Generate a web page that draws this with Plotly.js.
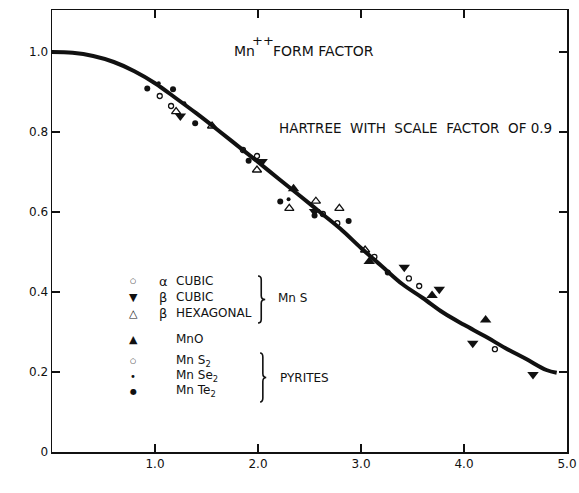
<!DOCTYPE html>
<html>
<head>
<meta charset="utf-8">
<script src="https://cdn.plot.ly/plotly-3.0.1.min.js"></script>
<style>html,body{margin:0;padding:0;background:#fff}#chart{width:579px;height:493px}</style>
</head>
<body>
<div id="chart"></div>
<script>
// Hartree curve (scale factor 0.9)
const curveX = [0, 0.2, 0.4, 0.6, 0.8, 1.0, 1.2, 1.4, 1.6, 1.8, 2.0, 2.2, 2.4, 2.6, 2.8, 3.0, 3.2, 3.4, 3.6, 3.8, 4.0, 4.2, 4.4, 4.6, 4.8, 4.9];
const curveY = [1.0, 0.998, 0.99, 0.975, 0.952, 0.922, 0.885, 0.847, 0.807, 0.766, 0.725, 0.683, 0.642, 0.600, 0.558, 0.510, 0.465, 0.420, 0.385, 0.348, 0.318, 0.290, 0.260, 0.233, 0.205, 0.198];

// MnS alpha cubic (small open circles)
const alphaCubicX = [1.046, 1.156, 1.854, 1.99, 2.63, 2.77, 3.13, 3.465, 3.565, 4.30];
const alphaCubicY = [0.890, 0.865, 0.755, 0.740, 0.595, 0.572, 0.488, 0.434, 0.415, 0.257];
// MnS beta cubic (filled down triangles)
const betaCubicX = [1.246, 2.04, 2.549, 3.42, 3.76, 4.085, 4.67];
const betaCubicY = [0.840, 0.726, 0.601, 0.462, 0.407, 0.272, 0.194];
// MnS beta hexagonal (open triangles)
const betaHexX = [1.205, 1.554, 1.99, 2.304, 2.562, 2.79, 3.04];
const betaHexY = [0.851, 0.815, 0.705, 0.609, 0.627, 0.609, 0.505];
// MnO (filled up triangles)
const mnoX = [2.345, 3.08, 3.69, 4.21];
const mnoY = [0.658, 0.476, 0.391, 0.330];
// MnSe2 (small dots)
const mnse2X = [1.036, 1.285, 2.297];
const mnse2Y = [0.922, 0.872, 0.632];
// MnTe2 (filled circles)
const mnte2X = [0.925, 1.175, 1.39, 1.909, 2.216, 2.549, 2.88, 3.26];
const mnte2Y = [0.909, 0.907, 0.822, 0.728, 0.626, 0.591, 0.5775, 0.449];

const xTickVals = [1, 2, 3, 4, 5];
const xTickText = ['1.0', '2.0', '3.0', '4.0', '5.0'];
const yTickVals = [0, 0.2, 0.4, 0.6, 0.8, 1.0];
const yTickText = ['0', '0.2', '0.4', '0.6', '0.8', '1.0'];

const FONT = 'DejaVu Sans, Arial, sans-serif';
const K = '#111';

function pts(x, y, symbol, size, lw) {
  return {x: x, y: y, type: 'scatter', mode: 'markers', showlegend: false, cliponaxis: false,
    marker: {symbol: symbol, size: size, color: K, line: {color: K, width: lw || 0}}};
}

const traces = [
  {x: curveX, y: curveY, type: 'scatter', mode: 'lines', line: {color: K, width: 4, shape: 'spline'}, showlegend: false},
  pts(alphaCubicX, alphaCubicY, 'circle-open', 5, 1.3),
  pts(betaCubicX, betaCubicY, 'triangle-down', 10),
  pts(betaHexX, betaHexY, 'triangle-up-open', 8, 1.3),
  pts(mnoX, mnoY, 'triangle-up', 10),
  pts(mnse2X, mnse2Y, 'circle', 4),
  pts(mnte2X, mnte2Y, 'circle', 6)
];

function txt(x, y, t, size, xanchor) {
  return {x: x, y: y, xref: 'x', yref: 'y', text: t, showarrow: false, xanchor: xanchor || 'left', yanchor: 'middle',
    font: {family: FONT, size: size || 12, color: K}};
}

const legX = 0.79, legTX = 1.18, legGX = 1.02;
const annotations = [
  txt(1.748, 1.0025, 'Mn', 14),
  txt(1.925, 1.03, '++', 13),
  txt(2.13, 1.0025, 'FORM FACTOR', 14),
  txt(2.184, 0.81, 'HARTREE  WITH  SCALE  FACTOR  OF 0.9', 13.5),
  txt(legX, 0.4275, '○', 7, 'center'),
  txt(legGX, 0.4275, 'α', 13, 'left'), txt(legTX, 0.4275, 'CUBIC'),
  txt(legX, 0.3875, '▼', 11, 'center'),
  txt(legGX, 0.3875, 'β', 13, 'left'), txt(legTX, 0.3875, 'CUBIC'),
  txt(legX, 0.3475, '△', 11, 'center'),
  txt(legGX, 0.3475, 'β', 13, 'left'), txt(legTX, 0.3475, 'HEXAGONAL'),
  txt(2.17, 0.385, 'Mn S'),
  txt(legX, 0.2825, '▲', 11, 'center'), txt(legTX, 0.2825, 'MnO'),
  txt(legX, 0.2275, '○', 7, 'center'), txt(legTX, 0.2275, 'Mn S<sub>2</sub>'),
  txt(legX, 0.19, '•', 10, 'center'), txt(legTX, 0.19, 'Mn Se<sub>2</sub>'),
  txt(legX, 0.1525, '●', 8, 'center'), txt(legTX, 0.1525, 'Mn Te<sub>2</sub>'),
  txt(2.19, 0.185, 'PYRITES'),
  {x: -0.38, y: 0.51, xref: 'x', yref: 'y', text: '<b>f</b>', showarrow: false, font: {family: FONT, size: 13, color: K}},
  {x: 2.325, y: -0.0775, xref: 'x', yref: 'y', text: '4π sin θ / λ', showarrow: false, font: {family: FONT, size: 12, color: K}}
];

function brace(xL, yT, yB, w) {
  const xM = xL + w * 0.45, xR = xL + w, ym = (yT + yB) / 2, c = (yT - yB) * 0.08;
  return {type: 'path', xref: 'x', yref: 'y', line: {color: K, width: 1.6},
    path: `M ${xL} ${yT} Q ${xM} ${yT} ${xM} ${yT - c} L ${xM} ${ym + c} Q ${xM} ${ym} ${xR} ${ym} Q ${xM} ${ym} ${xM} ${ym - c} L ${xM} ${yB + c} Q ${xM} ${yB} ${xL} ${yB}`};
}

const axisCommon = {showgrid: false, zeroline: false, showline: true, linecolor: K, linewidth: 1.5,
  mirror: 'ticks', ticks: 'inside', ticklen: 8, tickwidth: 1.5, tickcolor: K,
  tickfont: {family: FONT, size: 12, color: K}};

const layout = {
  width: 579, height: 493,
  margin: {l: 52, r: 12, t: 10, b: 41},
  paper_bgcolor: '#fff', plot_bgcolor: '#fff',
  xaxis: Object.assign({}, axisCommon, {range: [0, 5], tickmode: 'array', tickvals: xTickVals, ticktext: xTickText}),
  yaxis: Object.assign({}, axisCommon, {range: [0, 1.105], tickmode: 'array', tickvals: yTickVals, ticktext: yTickText, ticklabelstandoff: 0}),
  annotations: annotations,
  shapes: [brace(2.0, 0.44, 0.3225, 0.07), brace(2.02, 0.2475, 0.125, 0.06)]
};

Plotly.newPlot('chart', traces, layout, {staticPlot: true, displayModeBar: false});
</script>
</body>
</html>
